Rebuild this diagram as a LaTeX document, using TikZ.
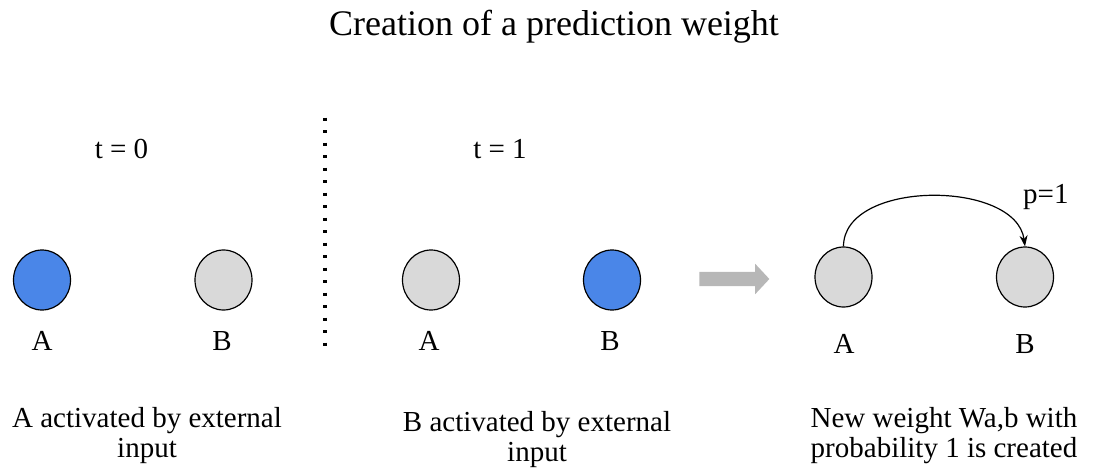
\documentclass[tikz,border=0pt]{standalone}
\usepackage{fontspec}
\setmainfont{Liberation Serif}
\usetikzlibrary{arrows.meta,shapes.arrows,shapes.geometric}
\begin{document}
\begin{tikzpicture}[x=1pt,y=-1pt,
  neuron/.style={draw=black,line width=1.2pt,ellipse,minimum width=57pt,minimum height=60pt,inner sep=0pt},
  active/.style={neuron,fill={rgb,255:red,74;green,134;blue,232}},
  idle/.style={neuron,fill={rgb,255:red,217;green,217;blue,217}},
  lbl/.style={font=\fontsize{29}{34}\selectfont,inner sep=0pt,anchor=base},
  caption/.style={font=\fontsize{29}{30}\selectfont,align=center,inner sep=0pt}]
\useasboundingbox (0,0) rectangle (1095,471);
\node[font=\fontsize{36}{40}\selectfont,inner sep=0pt,anchor=base] (title) at (554,35) {Creation of a prediction weight};
% t=0
\node[lbl] (t0) at (121.5,158) {t = 0};
\node[active] (a0) at (42,280) {};
\node[idle] (b0) at (223.5,280) {};
\node[lbl] (la0) at (42,350) {A};
\node[lbl] (lb0) at (222,350) {B};
\node[caption] (c0) at (147,436) {A activated by external\\input};
% divider
\coordinate (d1) at (325,117.5);
\coordinate (d2) at (325,346);
\draw[line width=3.3pt,dash pattern=on 3.3pt off 9.2pt] (d1) -- (d2);
% t=1
\node[lbl] (t1) at (500,158) {t = 1};
\node[idle] (a1) at (431,280) {};
\node[active] (b1) at (612,280) {};
\node[lbl] (la1) at (429,350) {A};
\node[lbl] (lb1) at (610,350) {B};
\node[caption] (c1) at (537,440) {B activated by external\\input};
% arrow
\node[single arrow,fill={rgb,255:red,183;green,183;blue,183},draw=none,inner xsep=0pt,inner ysep=7pt,single arrow head extend=8pt,minimum height=70pt,single arrow tip angle=94] (arr) at (731,279) {};
% result
\node[idle] (a2) at (843.5,277) {};
\node[idle] (b2) at (1025,277) {};
\node[lbl] (la2) at (844,353) {A};
\node[lbl] (lb2) at (1025,353) {B};
\node[lbl,anchor=base west] (p) at (1023,203) {p=1};
\draw[line width=1.2pt,-{Stealth[length=11pt,width=8pt]}] (a2.north) .. controls +(0,-67) and +(-9,-67) .. (b2.north);
\node[caption] (c2) at (944,436) {New weight Wa,b with\\probability 1 is created};
\end{tikzpicture}
\end{document}
